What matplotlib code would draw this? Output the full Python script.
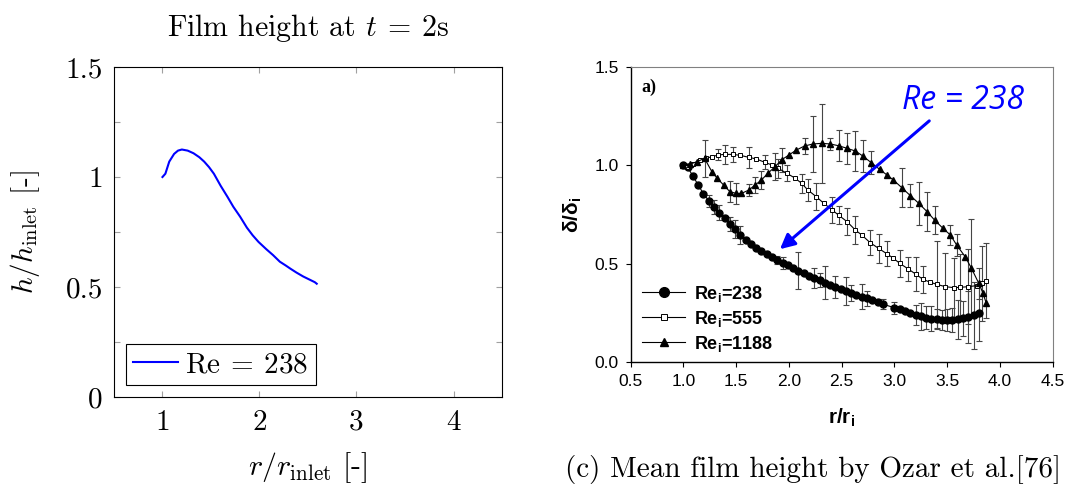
import matplotlib

matplotlib.use("Agg")
import matplotlib.pyplot as plt
from matplotlib.font_manager import FontProperties
from matplotlib.lines import Line2D
from matplotlib.ticker import MultipleLocator

nan = float("nan")

# Simulated film height at t = 2 s, Re = 238
sim_r = [1.00, 1.03, 1.07, 1.12, 1.16, 1.20, 1.26, 1.32, 1.38, 1.43,
         1.48, 1.53, 1.60, 1.67, 1.73, 1.80, 1.87, 1.93, 1.99, 2.07,
         2.14, 2.21, 2.27, 2.32, 2.38, 2.45, 2.51, 2.57, 2.59]
sim_h = [1.00, 1.015, 1.07, 1.105, 1.12, 1.125, 1.12, 1.108, 1.09, 1.07,
         1.045, 1.015, 0.96, 0.91, 0.865, 0.82, 0.77, 0.735, 0.705, 0.672,
         0.645, 0.615, 0.598, 0.583, 0.566, 0.548, 0.535, 0.522, 0.515]

# Measured mean film height (Ozar et al.), NaN = no error bar
re238_r = [1.00, 1.04, 1.09, 1.14, 1.19, 1.24, 1.29, 1.34, 1.39, 1.44,
           1.49, 1.54, 1.59, 1.64, 1.69, 1.74, 1.79, 1.84, 1.89, 1.94,
           1.99, 2.04, 2.09, 2.14, 2.19, 2.24, 2.29, 2.34, 2.39, 2.44,
           2.49, 2.54, 2.59, 2.64, 2.69, 2.74, 2.79, 2.84, 2.89, 3.00,
           3.05, 3.10, 3.15, 3.20, 3.25, 3.30, 3.35, 3.40, 3.45, 3.50,
           3.55, 3.60, 3.65, 3.70, 3.75, 3.80]
re238_d = [1.00, 0.99, 0.945, 0.90, 0.855, 0.82, 0.79, 0.76, 0.73, 0.70,
           0.675, 0.645, 0.62, 0.60, 0.58, 0.565, 0.548, 0.532, 0.518, 0.504,
           0.492, 0.478, 0.465, 0.452, 0.44, 0.428, 0.416, 0.404, 0.393, 0.382,
           0.372, 0.362, 0.352, 0.342, 0.333, 0.324, 0.314, 0.304, 0.295, 0.277,
           0.268, 0.258, 0.249, 0.24, 0.233, 0.227, 0.222, 0.218, 0.216, 0.215,
           0.216, 0.218, 0.223, 0.23, 0.238, 0.248]
re238_err = [nan, nan, nan, nan, nan, 0.03, 0.035, 0.04, nan, 0.035,
             0.045, 0.045, nan, nan, nan, nan, nan, nan, 0.02, 0.03,
             nan, nan, 0.095, nan, nan, 0.05, 0.035, 0.085, nan, 0.055,
             nan, 0.07, 0.04, nan, 0.065, 0.04, nan, nan, 0.025, 0.03,
             nan, nan, nan, 0.05, 0.07, 0.06, 0.065, 0.05, 0.05, 0.055,
             0.06, 0.10, 0.09, 0.13, 0.17, 0.14]

re555_r = [1.00, 1.03, 1.09, 1.16, 1.21, 1.27, 1.33, 1.39, 1.47, 1.54,
           1.62, 1.69, 1.77, 1.84, 1.90, 1.98, 2.06, 2.12, 2.18, 2.26,
           2.33, 2.41, 2.47, 2.55, 2.63, 2.69, 2.77, 2.85, 2.93, 2.99,
           3.05, 3.13, 3.20, 3.27, 3.34, 3.40, 3.48, 3.56, 3.62, 3.70,
           3.78, 3.83, 3.87]
re555_d = [1.00, 0.99, 1.006, 1.027, 1.035, 1.043, 1.052, 1.055, 1.055, 1.05,
           1.04, 1.032, 1.015, 1.001, 0.984, 0.959, 0.934, 0.908, 0.874, 0.84,
           0.807, 0.773, 0.747, 0.714, 0.671, 0.646, 0.607, 0.578, 0.55, 0.528,
           0.502, 0.474, 0.448, 0.421, 0.406, 0.396, 0.384, 0.379, 0.38, 0.384,
           0.389, 0.40, 0.413]
re555_err = [nan, nan, nan, nan, nan, nan, 0.028, 0.047, 0.04, nan,
             0.055, nan, 0.035, nan, 0.05, 0.04, nan, 0.047, 0.055, 0.068,
             nan, 0.068, 0.045, 0.068, 0.07, nan, 0.063, 0.072, 0.063, nan,
             0.068, 0.06, 0.085, 0.068, nan, 0.22, 0.17, 0.15, 0.17, 0.19,
             nan, 0.19, 0.19]

re1188_r = [1.00, 1.06, 1.13, 1.20, 1.27, 1.32, 1.38, 1.44, 1.50, 1.55,
            1.62, 1.68, 1.74, 1.80, 1.87, 1.93, 2.00, 2.07, 2.15, 2.23,
            2.31, 2.39, 2.47, 2.55, 2.63, 2.70, 2.78, 2.86, 2.93, 2.99,
            3.07, 3.15, 3.23, 3.31, 3.38, 3.46, 3.53, 3.59, 3.67, 3.73,
            3.80, 3.84, 3.87]
re1188_d = [1.00, 1.005, 1.018, 1.035, 0.967, 0.934, 0.90, 0.866, 0.857, 0.857,
            0.874, 0.90, 0.925, 0.959, 0.993, 1.027, 1.052, 1.077, 1.098, 1.108,
            1.111, 1.108, 1.099, 1.086, 1.072, 1.047, 1.013, 0.979, 0.95, 0.925,
            0.886, 0.846, 0.807, 0.764, 0.722, 0.68, 0.646, 0.595, 0.536, 0.477,
            0.40, 0.35, 0.30]
re1188_err = [nan, nan, nan, 0.095, nan, nan, nan, 0.055, 0.055, nan,
              0.03, 0.04, 0.045, nan, 0.07, 0.06, nan, nan, 0.04, 0.14,
              0.20, 0.03, 0.08, 0.08, 0.10, 0.08, 0.06, nan, nan, nan,
              0.10, 0.06, 0.11, 0.10, 0.07, nan, 0.05, 0.055, nan, 0.25,
              0.08, nan, nan]

legend_labels = [r"Re$_\mathbf{i}$=238", r"Re$_\mathbf{i}$=555", r"Re$_\mathbf{i}$=1188"]

BLUE = "#0000ff"
SANS = "Liberation Sans"

plt.rcParams["font.family"] = "cmr10"
plt.rcParams["mathtext.fontset"] = "cm"
plt.rcParams["mathtext.rm"] = SANS
plt.rcParams["mathtext.bf"] = f"{SANS}:bold"
plt.rcParams["axes.unicode_minus"] = False


def draw_simulation(ax):
    ax.plot(sim_r, sim_h, color=BLUE, lw=1.5, label=r"$\mathrm{Re}\:=\:238$")

    ax.set_xlim(0.5, 4.5)
    ax.set_ylim(0, 1.5)
    ax.set_xticks([1, 2, 3, 4])
    ax.set_yticks([0, 0.5, 1, 1.5], labels=["0", "0.5", "1", "1.5"])
    ax.yaxis.set_minor_locator(MultipleLocator(0.25))
    ax.tick_params(which="both", direction="in", top=True, right=True,
                   length=4.5, width=0.8, color="#a0a0a0", labelsize=21)
    ax.tick_params(axis="x", pad=9)
    ax.tick_params(axis="y", pad=8)
    for spine in ax.spines.values():
        spine.set_linewidth(0.8)

    ax.set_title(r"Film height at $t\:=\:2$s", fontsize=21.5, pad=22)
    ax.set_xlabel(r"$r/r_{\mathrm{inlet}}$ [-]", fontsize=21.5)
    ax.set_ylabel(r"$h/h_{\mathrm{inlet}}$ [-]", fontsize=21)
    ax.xaxis.set_label_coords(0.5, -0.16)
    ax.yaxis.set_label_coords(-0.185, 0.5)

    leg = ax.legend(loc="lower left", fancybox=False, edgecolor="black",
                    framealpha=1, borderpad=0.25, handlelength=1.55,
                    handletextpad=0.25, borderaxespad=0.4,
                    prop=FontProperties(family="cmr10", size=21))
    leg.get_frame().set_linewidth(0.8)


def draw_measurement(ax):
    series = [
        (re238_r, re238_d, re238_err, dict(marker="o", ms=5, mfc="black")),
        (re555_r, re555_d, re555_err, dict(marker="s", ms=3.2, mfc="white", mew=0.7)),
        (re1188_r, re1188_d, re1188_err, dict(marker="^", ms=4.5, mfc="black")),
    ]
    for r, d, err, style in series:
        ax.errorbar(r, d, yerr=err, fmt="none", ecolor="#454545",
                    elinewidth=0.8, capsize=2.5, capthick=0.8, zorder=2)
    for r, d, err, style in series:
        ax.plot(r, d, color="black", lw=0.8, mec="black", zorder=3, **style)

    ax.set_xlim(0.5, 4.5)
    ax.set_ylim(0, 1.5)
    ax.set_xticks([0.5, 1.0, 1.5, 2.0, 2.5, 3.0, 3.5, 4.0, 4.5])
    ax.set_yticks([0.0, 0.5, 1.0, 1.5])
    ax.xaxis.set_major_formatter("{x:.1f}")
    ax.yaxis.set_major_formatter("{x:.1f}")
    ax.tick_params(direction="out", length=3.5, width=0.8, labelsize=12.5, pad=5)
    for lbl in ax.get_xticklabels() + ax.get_yticklabels():
        lbl.set_fontfamily(SANS)
    for side in ("top", "right"):
        ax.spines[side].set_color("#808080")
        ax.spines[side].set_linewidth(0.8)
    for side in ("left", "bottom"):
        ax.spines[side].set_linewidth(1.0)

    label_font = dict(family=SANS, weight="bold", fontsize=15, math_fontfamily="custom")
    ax.set_xlabel(r"r/r$_\mathbf{i}$", **label_font)
    ax.set_ylabel(r"δ/δ$_\mathbf{i}$", **label_font)
    ax.xaxis.set_label_coords(0.5, -0.15)
    ax.yaxis.set_label_coords(-0.11, 0.5)

    ax.text(0.025, 0.93, "a)", transform=ax.transAxes, family="Liberation Serif",
            weight="bold", fontsize=13, va="center")

    handles = [
        Line2D([], [], color="black", lw=0.8, marker="o", ms=7, mfc="black"),
        Line2D([], [], color="black", lw=0.8, marker="s", ms=4, mfc="white", mew=0.7),
        Line2D([], [], color="black", lw=0.8, marker="^", ms=5.5, mfc="black"),
    ]
    ax.legend(handles, legend_labels, loc="lower left", frameon=False,
              handlelength=2.4, handletextpad=0.45, labelspacing=0.28,
              borderaxespad=0.0, bbox_to_anchor=(0.01, 0.005),
              prop=FontProperties(family=SANS, weight="bold", size=13,
                                  math_fontfamily="custom"))

    # arrow pointing at the Re = 238 curve
    ax.annotate("", xy=(1.915, 0.574), xytext=(3.33, 1.225),
                arrowprops=dict(arrowstyle="-|>", color=BLUE, lw=2.2,
                                mutation_scale=22, shrinkA=0, shrinkB=0))
    ax.text(3.65, 1.33, "Re = 238", color=BLUE, family="Open Sans",
            style="italic", fontsize=23, ha="center", va="center")


fig = plt.figure(figsize=(10.72, 4.86), dpi=100)
ax_sim = fig.add_axes([0.1063, 0.1831, 0.3620, 0.6790])
ax_exp = fig.add_axes([0.5883, 0.2545, 0.3937, 0.6083])

draw_simulation(ax_sim)
draw_measurement(ax_exp)

fig.text(0.758, 0.033, "(c) Mean film height by Ozar et al.[76]",
         fontsize=21, ha="center", va="center")

fig.savefig("out.png", dpi=100)
